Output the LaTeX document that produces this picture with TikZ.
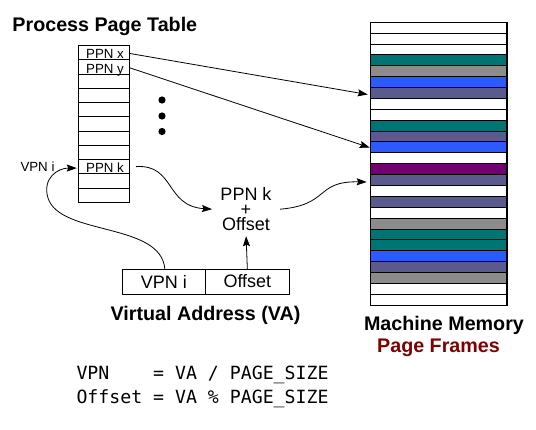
\documentclass[tikz,border=0pt]{standalone}
\usepackage{fontspec}
\setmainfont{Liberation Sans}
\setmonofont{DejaVu Sans Mono}
\usetikzlibrary{arrows.meta}
\definecolor{mteal}{RGB}{0,115,115}
\definecolor{mgray}{RGB}{140,140,140}
\definecolor{mblue}{RGB}{45,90,255}
\definecolor{mslate}{RGB}{90,90,140}
\definecolor{mpurple}{RGB}{112,0,112}
\definecolor{dred}{RGB}{128,0,0}
\tikzset{
  ptrow/.style={draw=black,line width=1pt,minimum width=50.7pt,minimum height=14.25pt,inner sep=0pt,outer sep=0pt},
  memrow/.style={draw=black,line width=1pt,minimum width=136.3pt,minimum height=10.88pt,inner sep=0pt,outer sep=0pt},
  vabox/.style={draw=black,line width=1pt,minimum width=83.65pt,minimum height=25pt,inner sep=0pt,outer sep=0pt,font=\fontsize{18}{20}\selectfont},
  txt/.style={inner sep=0pt,outer sep=0pt},
  bigbold/.style={txt,font=\fontsize{19.7}{22}\selectfont\bfseries},
  small/.style={txt,font=\fontsize{13.3}{15}\selectfont},
  sumtext/.style={txt,align=center,font=\fontsize{18}{15.1}\selectfont},
  code/.style={txt,font=\fontsize{18.2}{21}\selectfont\ttfamily},
  arr/.style={line width=0.8pt,-{Stealth[length=10pt,width=7pt,inset=1.5pt]}},
}
\begin{document}
\begin{tikzpicture}[x=1pt,y=-1pt]
\useasboundingbox (0,0) rectangle (536,429);
% title
\node[bigbold,anchor=base west] (title) at (12.5,31.7) {Process Page Table};
% page table
\foreach \i in {1,...,11}{
  \node[ptrow] (r\i) at (103.65,{45.5+(\i-0.5)*14.25}) {};
}
\node[small,anchor=base] (px) at (105,58.8) {PPN x};
\node[small,anchor=base] (py) at (105,73) {PPN y};
\node[small,anchor=base] (pk) at (105,172.6) {PPN k};
\node[small,anchor=east] (vpnlbl) at (54.5,167) {VPN i};
% dots
\fill (162,100) circle (3.6);
\fill (162,116) circle (3.6);
\fill (162,131.5) circle (3.6);
% memory
\foreach \c [count=\i] in {white,white,white,mteal,mgray,mblue,mslate,white,white,mteal,mslate,mblue,white,mpurple,mslate,white,mslate,white,mgray,mteal,mteal,mblue,mslate,mgray,white,white}{
  \node[memrow,fill=\c] (m\i) at (438.85,{22.3+(\i-0.5)*10.88}) {};
}
\draw[line width=1.3pt] (m1.north west) rectangle (m26.south east);
\node[bigbold,anchor=base] (mm) at (444,330.7) {Machine Memory};
\node[bigbold,anchor=base,text=dred] (pf) at (438.5,352.5) {Page Frames};
% sum node
\node[sumtext,minimum width=68pt,minimum height=50pt] (sum) at (246,209.2) {PPN k\\+\\Offset};
% virtual address
\node[vabox] (va1) at (163.85,281.5) {VPN i};
\node[vabox] (va2) at (247.35,281.5) {Offset};
\node[bigbold,anchor=base] (vat) at (205.5,320.5) {Virtual Address (VA)};
% code
\node[code,anchor=base west] (c1) at (76.5,379.3) {VPN\ \ \ \ = VA / PAGE\_SIZE};
\node[code,anchor=base west] (c2) at (76.5,403.3) {Offset = VA \% PAGE\_SIZE};
% connectors
\draw[arr,shorten >=3pt] ([yshift=-0.7pt]r1.east) -- ([yshift=-2pt]m7.west);
\draw[arr,shorten >=1pt] ([yshift=-0.7pt]r2.east) -- ([yshift=-0.5pt]m12.west);
\draw[arr] ([xshift=7pt]r9.east) .. controls (175,164) and (165,206) .. (sum.west);
\draw[arr,shorten >=4pt] (sum.east) .. controls (330,205) and (315,181) .. ([yshift=-2pt]m15.west);
\draw[arr,shorten >=2pt] (va2.north) -- (sum.south);
\draw[arr,shorten >=1.5pt] ([xshift=1pt]va1.north) .. controls (161,222) and (60,236) .. (48,198) .. controls (42,178) and (58,168) .. ([yshift=-1.5pt]r9.west);
\end{tikzpicture}
\end{document}
